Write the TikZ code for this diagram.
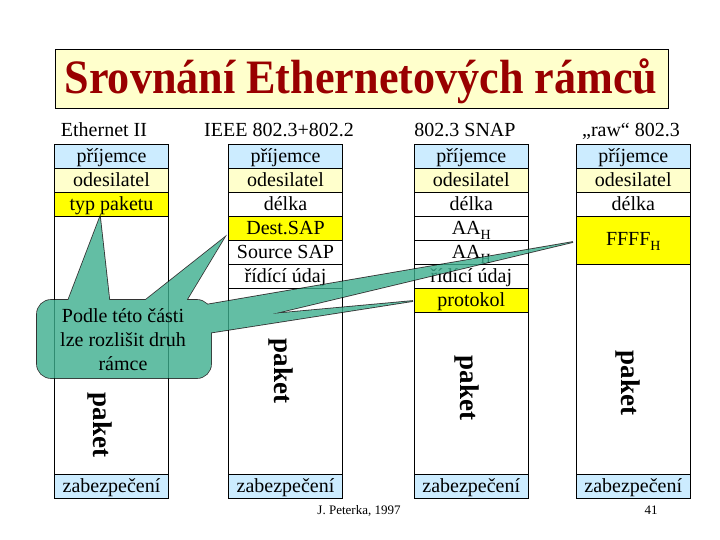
\documentclass[tikz,border=0pt]{standalone}
\usepackage{fontspec}
\usepackage{graphicx}
\setmainfont{Liberation Serif}
\definecolor{ltblue}{HTML}{CCECFF}
\definecolor{ltyel}{HTML}{FFFFCC}
\definecolor{yel}{HTML}{FFFF00}
\definecolor{titred}{HTML}{990000}
\definecolor{callcol}{RGB}{61,174,142}
\newcommand{\subH}{\raisebox{-5pt}{\fontsize{14}{14}\selectfont H}}
\begin{document}
\begin{tikzpicture}[x=1pt,y=-1pt,
  cell/.style={draw=black, line width=0.8pt, minimum width=114pt, minimum height=24pt,
    inner sep=0pt, text height=16pt, text depth=3pt, font=\fontsize{20}{24}\selectfont},
  hdr/.style={anchor=base, inner sep=0pt, font=\fontsize{20}{24}\selectfont},
  paketlbl/.style={rotate=-90, inner sep=0pt, font=\fontsize{27}{30}\selectfont\bfseries},
  foot/.style={anchor=base, inner sep=0pt, font=\fontsize{13}{15}\selectfont},
  callshape/.style={fill=callcol},
  calloutline/.style={draw=black, line width=1.6pt}]
\useasboundingbox (0,0) rectangle (720,540);
\fill[white] (0,0) rectangle (720,540);

% title
\node[draw=black, line width=0.8pt, fill=ltyel, minimum width=613pt, minimum height=59pt, inner sep=0pt] (titlebox) at (361.5,78.7) {};
\node[anchor=base, inner sep=0pt, text=titred, font=\fontsize{48}{50}\selectfont\bfseries] (title) at (361,94) {\scalebox{0.92}[1]{Srovnání Ethernetových rámců}};

% headers
\node[hdr] (h1) at (104,137) {Ethernet II};
\node[hdr] (h2) at (279,137) {IEEE 802.3+802.2};
\node[hdr] (h3) at (465,137) {802.3 SNAP};
\node[hdr] (h4) at (631,137) {„raw“ 802.3};

% column 1
\node[cell, fill=ltblue] (c1r1) at (111.5,156) {příjemce};
\node[cell, fill=ltyel]  (c1r2) at (111.5,180) {odesilatel};
\node[cell, fill=yel]    (c1r3) at (111.5,204) {typ paketu};
\node[cell, minimum height=258pt] (c1b) at (111.5,345) {};
\node[cell, fill=ltblue] (c1z) at (111.5,486) {zabezpečení};

% column 2
\node[cell, fill=ltblue] (c2r1) at (285.5,156) {příjemce};
\node[cell, fill=ltyel]  (c2r2) at (285.5,180) {odesilatel};
\node[cell]              (c2r3) at (285.5,204) {délka};
\node[cell, fill=yel]    (c2r4) at (285.5,228) {Dest.SAP};
\node[cell]              (c2r5) at (285.5,252) {Source SAP};
\node[cell]              (c2r6) at (285.5,276) {řídící údaj};
\node[cell, minimum height=186pt] (c2b) at (285.5,381) {};
\node[cell, fill=ltblue] (c2z) at (285.5,486) {zabezpečení};

% column 3
\node[cell, fill=ltblue] (c3r1) at (471.3,156) {příjemce};
\node[cell, fill=ltyel]  (c3r2) at (471.3,180) {odesilatel};
\node[cell]              (c3r3) at (471.3,204) {délka};
\node[cell]              (c3r4) at (471.3,228) {AA\subH};
\node[cell]              (c3r5) at (471.3,252) {AA\subH};
\node[cell]              (c3r6) at (471.3,276) {řídící údaj};
\node[cell, fill=yel]    (c3r7) at (471.3,300) {protokol};
\node[cell, minimum height=162pt] (c3b) at (471.3,393) {};
\node[cell, fill=ltblue] (c3z) at (471.3,486) {zabezpečení};

% column 4
\node[cell, fill=ltblue] (c4r1) at (633.3,156) {příjemce};
\node[cell, fill=ltyel]  (c4r2) at (633.3,180) {odesilatel};
\node[cell]              (c4r3) at (633.3,204) {délka};
\node[cell, fill=yel, minimum height=48pt, text height=14pt, text depth=3pt] (c4r4) at (633.3,240) {FFFF\subH};
\node[cell, minimum height=210pt] (c4b) at (633.3,369) {};
\node[cell, fill=ltblue] (c4z) at (633.3,486) {zabezpečení};

% paket labels
\node[paketlbl] (p1) at (100,425) {paket};
\node[paketlbl] (p2) at (281,371) {paket};
\node[paketlbl] (p3) at (467,388) {paket};
\node[paketlbl] (p4) at (628,383) {paket};

% callout pointer tips
\coordinate (t1) at (100,217);
\coordinate (t2) at (224,238);
\coordinate (t3) at (573,242);
\coordinate (t4) at (413,301);

\begin{scope}[transparency group, opacity=0.8]
  \draw[calloutline, rounded corners=14pt] (37,300) rectangle (211,378);
  \draw[calloutline] (66,306) -- (t1) -- (110,306) -- cycle;
  \draw[calloutline] (138,306) -- (t2) -- (183,306) -- cycle;
  \draw[calloutline] (205,305) -- (t3) -- (205,330) -- cycle;
  \draw[calloutline] (205,320) -- (t4) -- (208,333) -- cycle;
  \fill[callshape, rounded corners=14pt] (37,300) rectangle (211,378);
  \fill[callshape] (66,306) -- (t1) -- (110,306) -- cycle;
  \fill[callshape] (138,306) -- (t2) -- (183,306) -- cycle;
  \fill[callshape] (205,305) -- (t3) -- (205,330) -- cycle;
  \fill[callshape] (205,320) -- (t4) -- (208,333) -- cycle;
\end{scope}
\node[align=center, inner sep=0pt, font=\fontsize{20}{24}\selectfont] (calltext) at (123,340) {Podle této části\\lze rozlišit druh\\rámce};

% footer
\node[foot] (author) at (359,514) {J. Peterka, 1997};
\node[foot] (pagenum) at (651,514) {41};
\end{tikzpicture}
\end{document}
